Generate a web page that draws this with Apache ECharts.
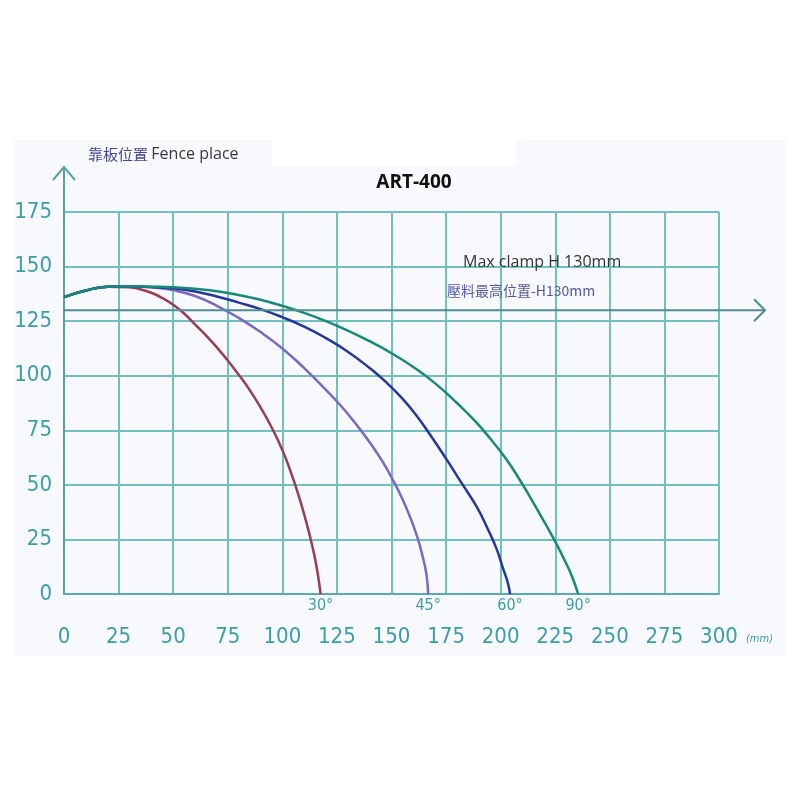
<!DOCTYPE html>
<html>
<head>
<meta charset="utf-8">
<script src="https://cdn.jsdelivr.net/npm/echarts@6/dist/echarts.min.js"></script>
<style>
  html, body { margin: 0; padding: 0; background: #fff; }
  #chart { width: 800px; height: 800px; }
</style>
</head>
<body>
<div id="chart"></div>
<script>
// tick values of both axes
var xTicks = [0, 25, 50, 75, 100, 125, 150, 175, 200, 225, 250, 275, 300];
var yTicks = [0, 25, 50, 75, 100, 125, 150, 175];

// fence position curves, [x mm, height mm]
var angleNames = ['30°', '45°', '60°', '90°'];
var curve30 = [[0,136],[10,139],[20,140.8],[30,140.5],[35,139.6],[40,138],[45,135.6],[50,132.5],[55,128.5],
  [60,123.5],[65,118.5],[70,113],[75,107],[80,100.5],[85,93.5],[90,85.5],[95,76.5],[100,66],[104,55.5],
  [107,46.5],[110,36.5],[112.5,27],[114.5,18.5],[116,10.5],[117,4],[117.5,0]];
var curve45 = [[0,136],[10,139],[20,140.8],[30,141],[40,140.5],[50,139.2],[60,136.5],[70,132],[80,126.5],
  [90,120],[100,112.5],[110,103.5],[120,93.5],[127,86],[134,77.5],[140,69.5],[146,60.5],[151,51.5],
  [155,43.5],[159,34],[162,25.5],[164.3,17],[166,9],[166.8,0]];
var curve60 = [[0,136],[10,139],[20,140.8],[30,141],[40,140.6],[50,140],[60,138.6],[70,136.3],[80,133.5],
  [90,130.5],[100,126.8],[110,122.5],[120,117.2],[130,111],[140,103.5],[147,97.5],[155,89.5],[162,81],
  [168,72.5],[175,62],[182,51],[189,40],[194,30],[198,21],[201,12],[203.3,5],[204.3,0]];
var curve90 = [[0,136],[10,139],[20,140.8],[30,141],[40,140.8],[50,140.5],[60,139.8],[70,138.7],[80,137],
  [90,134.8],[100,132],[110,128.8],[120,125],[130,120.7],[140,115.8],[150,110.3],[160,104],[170,96.5],
  [180,87.5],[188,79.5],[195,71.5],[202,62.5],[208,53.5],[214,43.5],[220,33],[225,24],[229,16],
  [232.5,8.5],[235.5,0]];
var clampHeight = 130;

var curves = [curve30, curve45, curve60, curve90];
var colors = ['#9b3b55', '#7b68c2', '#25379a', '#17897a'];

var teal = '#3a9ea6';
var gridTeal = '#72bfc0';
var labelFont = "'Liberation Sans Narrow', 'DejaVu Sans Condensed', 'Liberation Sans', sans-serif";

var myChart = echarts.init(document.getElementById('chart'));

// last point of each curve carries the angle label below the axis
function buildData(points, name) {
    return points.map(function (p, i) {
        if (i < points.length - 1) return { value: p, symbol: 'none' };
        return {
            value: p,
            symbol: 'circle',
            symbolSize: 1,
            label: {
                show: true, position: 'bottom', distance: 3, formatter: name,
                color: teal, fontSize: 16, fontFamily: labelFont
            }
        };
    });
}

var series = curves.map(function (c, i) {
    return {
        type: 'line',
        name: angleNames[i],
        data: buildData(c, angleNames[i]),
        smooth: 0.5,
        showSymbol: true,
        lineStyle: { color: colors[i], width: 2.5 },
        itemStyle: { color: colors[i] },
        z: 5
    };
});

myChart.setOption({
    animation: false,
    backgroundColor: '#ffffff',
    grid: { left: 64, right: 81, top: 212, bottom: 206 },
    xAxis: {
        type: 'value', min: xTicks[0], max: xTicks[xTicks.length - 1], interval: 25,
        axisLine: { lineStyle: { color: '#5aaab0', width: 2 } },
        axisTick: { show: false },
        axisLabel: { color: teal, fontSize: 22, margin: 32, fontFamily: labelFont },
        splitLine: { lineStyle: { color: gridTeal, width: 2 } }
    },
    yAxis: {
        type: 'value', min: yTicks[0], max: yTicks[yTicks.length - 1], interval: 25,
        axisLine: { show: true, lineStyle: { color: '#5aa0a8', width: 2 } },
        axisTick: { show: false },
        axisLabel: { color: teal, fontSize: 22, margin: 12, fontFamily: labelFont },
        splitLine: { lineStyle: { color: gridTeal, width: 2 } }
    },
    series: series
});

// arrows, clamp line and captions placed with the chart's own scales
var origin = myChart.convertToPixel({ gridIndex: 0 }, [0, 0]);
var clampY = myChart.convertToPixel({ gridIndex: 0 }, [0, clampHeight])[1];
var topY = myChart.convertToPixel({ gridIndex: 0 }, [0, yTicks[yTicks.length - 1]])[1];
var rightX = myChart.convertToPixel({ gridIndex: 0 }, [xTicks[xTicks.length - 1], 0])[0];
var arrowColor = '#4f8d93';

myChart.setOption({
    graphic: [
        { type: 'rect', z: -10, silent: true, shape: { x: 14, y: 140, width: 772, height: 516 },
          style: { fill: '#f8f9fc' } },
        { type: 'rect', z: -9, silent: true, shape: { x: 272, y: 140, width: 244, height: 26 },
          style: { fill: '#ffffff' } },
        // y axis extension with open arrow head
        { type: 'polyline', z: 10, shape: { points: [[origin[0], topY], [origin[0], topY - 44]] },
          style: { stroke: '#5aa0a8', lineWidth: 2 } },
        { type: 'polyline', z: 10, shape: { points: [[origin[0] - 11, topY - 32], [origin[0], topY - 45], [origin[0] + 11, topY - 32]] },
          style: { stroke: '#5aa0a8', lineWidth: 2, fill: null } },
        // max clamp line
        { type: 'polyline', z: 10, shape: { points: [[origin[0], clampY], [rightX + 46, clampY]] },
          style: { stroke: arrowColor, lineWidth: 2 } },
        { type: 'polyline', z: 10, shape: { points: [[rightX + 35, clampY - 11], [rightX + 46, clampY], [rightX + 35, clampY + 11]] },
          style: { stroke: arrowColor, lineWidth: 2, fill: null } },
        { type: 'text', z: 10, left: 88, top: 146,
          style: { text: '{c|靠板位置} {e|Fence place}',
            rich: {
                c: { fontSize: 15, fill: '#46469a', fontFamily: "'Noto Sans CJK TC', sans-serif" },
                e: { fontSize: 16, fill: '#3a3a3a', fontFamily: "'Open Sans', sans-serif" }
            } } },
        { type: 'text', z: 10, x: 414, y: 183,
          style: { text: 'ART-400', fontSize: 19, fontWeight: 'bold', fill: '#111', align: 'center', verticalAlign: 'middle',
            fontFamily: "'Open Sans', 'Liberation Sans', sans-serif" } },
        { type: 'text', z: 10, x: 463, y: clampY - 48,
          style: { text: 'Max clamp H 130mm', fontSize: 16, fill: '#333', verticalAlign: 'middle',
            fontFamily: "'Open Sans', sans-serif" } },
        { type: 'text', z: 10, x: 447, y: clampY - 20,
          style: { text: '壓料最高位置-H130mm', fontSize: 14, fill: '#5656a6', verticalAlign: 'middle',
            fontFamily: "'Noto Sans CJK TC', sans-serif" } },
        { type: 'text', z: 10, x: rightX + 27, y: origin[1] + 45,
          style: { text: '(mm)', fontSize: 11, fill: teal, verticalAlign: 'middle', fontStyle: 'italic',
            fontFamily: labelFont } }
    ]
});
</script>
</body>
</html>
